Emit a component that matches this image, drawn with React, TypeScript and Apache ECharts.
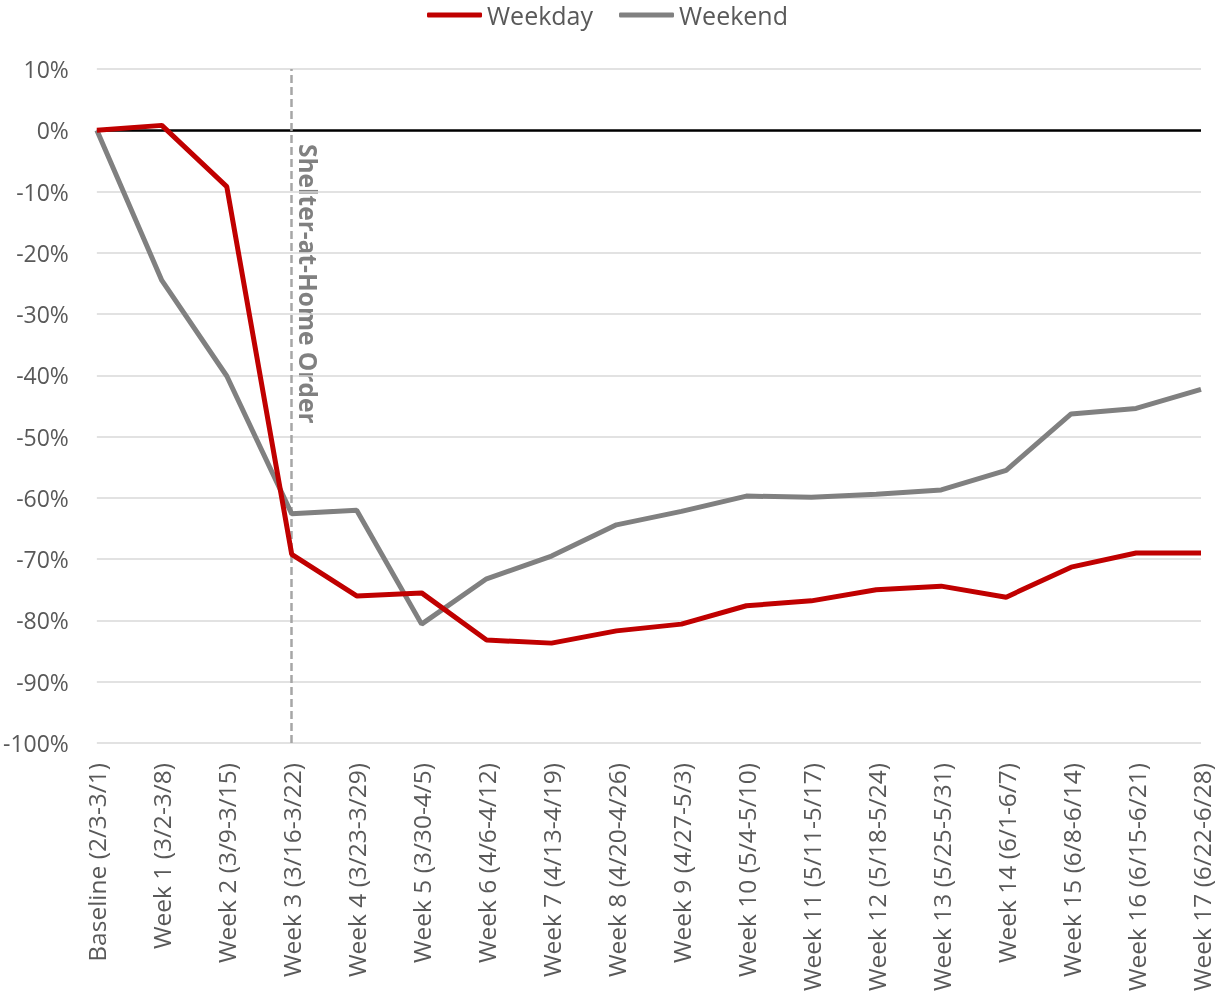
import React, { useEffect, useRef } from "react";
import * as echarts from "echarts";

const categories = [
  "Baseline (2/3-3/1)",
  "Week 1 (3/2-3/8)",
  "Week 2 (3/9-3/15)",
  "Week 3 (3/16-3/22)",
  "Week 4 (3/23-3/29)",
  "Week 5 (3/30-4/5)",
  "Week 6 (4/6-4/12)",
  "Week 7 (4/13-4/19)",
  "Week 8 (4/20-4/26)",
  "Week 9 (4/27-5/3)",
  "Week 10 (5/4-5/10)",
  "Week 11 (5/11-5/17)",
  "Week 12 (5/18-5/24)",
  "Week 13 (5/25-5/31)",
  "Week 14 (6/1-6/7)",
  "Week 15 (6/8-6/14)",
  "Week 16 (6/15-6/21)",
  "Week 17 (6/22-6/28)",
];

const weekday = [0, 0.8, -9.2, -69.2, -76.0, -75.5, -83.2, -83.7, -81.7, -80.6, -77.6, -76.8, -75.0, -74.4, -76.2, -71.3, -69.0, -69.0];
const weekend = [0, -24.5, -40.1, -62.6, -62.0, -80.6, -73.2, -69.5, -64.4, -62.2, -59.7, -59.9, -59.4, -58.7, -55.5, -46.3, -45.4, -42.3];

const markerCategory = "Week 3 (3/16-3/22)";
const markerText = "Shelter-at-Home Order";

const FONT = "'Open Sans', 'Liberation Sans', sans-serif";

export default function App() {
  const ref = useRef<HTMLDivElement>(null);
  useEffect(() => {
    if (!ref.current) return;
    const chart = echarts.init(ref.current, undefined, { renderer: "svg" });
    chart.setOption({
      animation: false,
      textStyle: { fontFamily: FONT },
      legend: {
        top: 2,
        padding: 0,
        left: "center",
        data: ["Weekday", "Weekend"],
        icon: "roundRect",
        itemWidth: 55,
        itemHeight: 5,
        itemGap: 26,
        textStyle: { color: "#595959", fontSize: 25, lineHeight: 26, fontFamily: FONT },
      },
      grid: { left: 95, right: 14, top: 69, bottom: 260, containLabel: false },
      xAxis: {
        type: "category",
        data: categories,
        boundaryGap: false,
        axisLine: { show: false },
        axisTick: { show: false },
        axisLabel: {
          rotate: 90,
          interval: 0,
          color: "#595959",
          fontSize: 24.5,
          fontFamily: FONT,
          margin: 20,
        },
      },
      yAxis: {
        type: "value",
        min: -100,
        max: 10,
        interval: 10,
        axisLine: { show: false },
        axisTick: { show: false },
        axisLabel: { formatter: "{value}%", color: "#595959", fontSize: 23, fontFamily: FONT, margin: 28 },
        splitLine: { lineStyle: { color: "#d9d9d9", width: 1.5 } },
      },
      series: [
        {
          name: "Weekend",
          type: "line",
          data: weekend,
          showSymbol: false,
          symbol: "none",
          lineStyle: { color: "#808080", width: 5 },
          itemStyle: { color: "#808080" },
          z: 3,
          markLine: {
            silent: true,
            symbol: "none",
            label: { show: false },
            z: 1,
            data: [
              { yAxis: 0, lineStyle: { color: "#000000", width: 2.5, type: "solid" } },
              { xAxis: markerCategory, lineStyle: { color: "#a6a6a6", width: 2.5, type: [8, 4] } },
            ],
          },
        },
        {
          name: "Weekday",
          type: "line",
          data: weekday,
          showSymbol: false,
          symbol: "none",
          lineStyle: { color: "#c00000", width: 5 },
          itemStyle: { color: "#c00000" },
          z: 4,
        },
      ],
      graphic: [
        {
          type: "text",
          x: 296,
          y: 144,
          rotation: -Math.PI / 2,
          style: {
            text: markerText,
            fill: "#808080",
            fontSize: 24.5,
            fontWeight: "bold",
            fontFamily: FONT,
            align: "left",
            verticalAlign: "bottom",
          },
        },
      ],
    });
    return () => chart.dispose();
  }, []);
  return <div ref={ref} style={{ position: "fixed", left: 0, top: 0, width: 1215, height: 1003 }} />;
}
